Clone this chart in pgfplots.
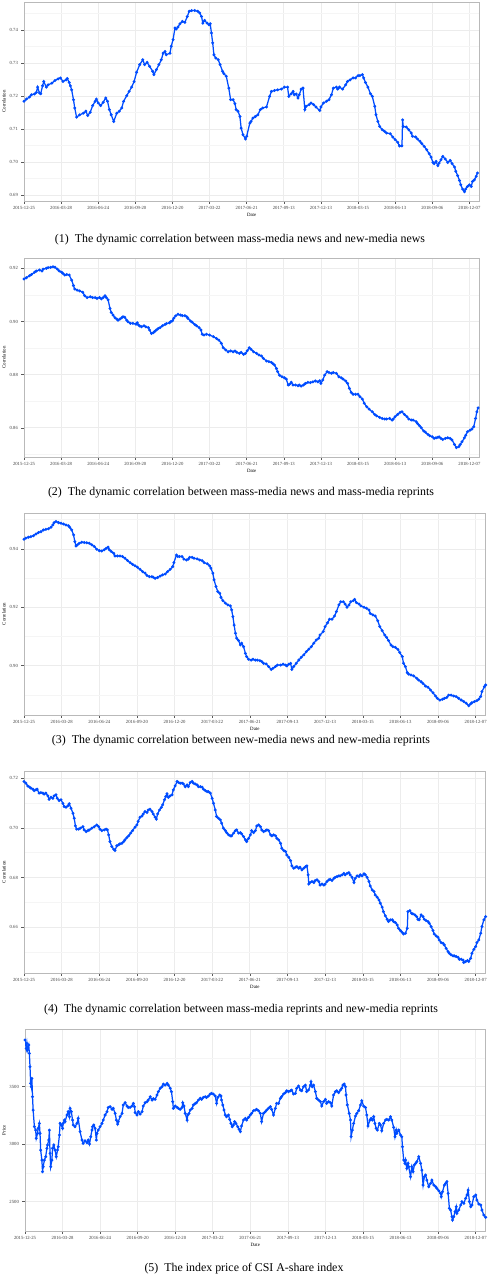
\documentclass[border=0pt]{standalone}
\usepackage{fontspec}
\setmainfont{Liberation Serif}
\usepackage{pgfplots}
\usepackage{pgfplotstable}
\pgfplotsset{compat=1.18}

\definecolor{lineblue}{RGB}{0,76,255}

% panel 1: mass-media news vs new-media news
\pgfplotstableread[row sep=\\]{x y\\
0 0.7184\\ 4 0.7191\\ 9 0.7197\\ 12 0.7204\\ 17 0.7206\\ 20 0.7211\\ 22 0.7227\\ 25 0.7209\\ 27 0.7207\\ 30 0.7231\\
32 0.7244\\ 36 0.7227\\ 39 0.7234\\ 45 0.7239\\ 50 0.7247\\ 55 0.7252\\ 59 0.7255\\ 63 0.7244\\ 68 0.7249\\ 70 0.7253\\
73 0.7241\\ 75 0.7231\\ 77 0.7219\\ 80 0.7189\\ 82 0.7164\\ 85 0.7136\\ 90 0.7143\\ 96 0.7148\\ 100 0.7154\\ 103 0.7141\\
107 0.7151\\ 111 0.7171\\ 115 0.7184\\ 117 0.7191\\ 120 0.7179\\ 124 0.7171\\ 128 0.7181\\ 132 0.7194\\ 135 0.7184\\ 138 0.7159\\
141 0.7143\\ 145 0.7123\\ 150 0.7148\\ 154 0.7154\\ 158 0.7164\\ 161 0.7184\\ 166 0.7201\\ 170 0.7214\\ 174 0.7227\\ 178 0.7244\\
182 0.7272\\ 187 0.7295\\ 192 0.7310\\ 195 0.7295\\ 199 0.7302\\ 203 0.7290\\ 208 0.7275\\ 210 0.7265\\ 214 0.7280\\ 218 0.7295\\
222 0.7310\\ 225 0.7330\\ 228 0.7335\\ 230 0.7325\\ 236 0.7330\\ 238 0.7351\\ 241 0.7371\\ 244 0.7406\\ 246 0.7403\\ 249 0.7409\\
252 0.7419\\ 256 0.7426\\ 260 0.7423\\ 264 0.7441\\ 267 0.7457\\ 271 0.7459\\ 276 0.7459\\ 281 0.7457\\ 284 0.7452\\ 287 0.7441\\
289 0.7421\\ 292 0.7429\\ 296 0.7421\\ 299 0.7416\\ 301 0.7419\\ 303 0.7391\\ 305 0.7361\\ 307 0.7325\\ 310 0.7315\\ 314 0.7310\\
317 0.7295\\ 321 0.7275\\ 323 0.7268\\ 327 0.7260\\ 331 0.7224\\ 334 0.7189\\ 338 0.7189\\ 341 0.7177\\ 343 0.7159\\ 346 0.7154\\
349 0.7138\\ 351 0.7103\\ 354 0.7083\\ 358 0.7070\\ 360 0.7078\\ 365 0.7118\\ 367 0.7123\\ 370 0.7133\\ 374 0.7138\\ 378 0.7143\\
382 0.7159\\ 386 0.7164\\ 392 0.7167\\ 397 0.7199\\ 400 0.7214\\ 405 0.7217\\ 410 0.7219\\ 416 0.7221\\ 421 0.7227\\ 426 0.7227\\
428 0.7199\\ 432 0.7207\\ 435 0.7214\\ 437 0.7204\\ 440 0.7206\\ 443 0.7194\\ 445 0.7204\\ 448 0.7221\\ 451 0.7224\\ 454 0.7159\\
456 0.7169\\ 461 0.7174\\ 464 0.7179\\ 468 0.7174\\ 472 0.7167\\ 478 0.7156\\ 480 0.7167\\ 484 0.7179\\ 489 0.7184\\ 493 0.7189\\
497 0.7204\\ 500 0.7224\\ 505 0.7227\\ 507 0.7221\\ 510 0.7227\\ 515 0.7221\\ 520 0.7234\\ 523 0.7244\\ 527 0.7249\\ 532 0.7255\\
536 0.7255\\ 540 0.7262\\ 543 0.7262\\ 547 0.7265\\ 549 0.7255\\ 552 0.7241\\ 556 0.7227\\ 560 0.7207\\ 563 0.7199\\ 567 0.7169\\
569 0.7143\\ 572 0.7123\\ 575 0.7108\\ 579 0.7098\\ 583 0.7093\\ 586 0.7088\\ 592 0.7086\\ 596 0.7076\\ 600 0.7068\\ 604 0.7060\\
607 0.7049\\ 611 0.7049\\ 612 0.7128\\ 613 0.7108\\ 618 0.7106\\ 622 0.7098\\ 626 0.7088\\ 628 0.7078\\ 633 0.7076\\ 636 0.7070\\
640 0.7063\\ 643 0.7056\\ 647 0.7047\\ 651 0.7037\\ 655 0.7025\\ 658 0.7015\\ 661 0.6999\\ 663 0.6995\\ 666 0.7002\\ 669 0.6989\\
671 0.6997\\ 674 0.7007\\ 677 0.7017\\ 681 0.7009\\ 685 0.6999\\ 689 0.7005\\ 692 0.6995\\ 696 0.6985\\ 698 0.6972\\ 701 0.6959\\
704 0.6944\\ 706 0.6931\\ 709 0.6918\\ 712 0.6910\\ 714 0.6918\\ 717 0.6926\\ 720 0.6931\\ 723 0.6926\\ 725 0.6941\\ 728 0.6946\\
731 0.6957\\ 733 0.6967\\
}\tabA

% panel 2: mass-media news vs mass-media reprints
\pgfplotstableread[row sep=\\]{x y\\
0 0.9160\\ 4 0.9165\\ 9 0.9172\\ 12 0.9177\\ 17 0.9185\\ 20 0.9190\\ 25 0.9194\\ 29 0.9190\\ 31 0.9197\\ 36 0.9200\\
39 0.9203\\ 43 0.9204\\ 47 0.9206\\ 50 0.9204\\ 54 0.9197\\ 57 0.9190\\ 61 0.9185\\ 63 0.9181\\ 66 0.9175\\ 69 0.9177\\
73 0.9175\\ 77 0.9156\\ 80 0.9135\\ 82 0.9122\\ 86 0.9118\\ 90 0.9115\\ 95 0.9110\\ 98 0.9097\\ 102 0.9090\\ 107 0.9093\\
111 0.9090\\ 115 0.9090\\ 118 0.9087\\ 122 0.9090\\ 125 0.9085\\ 128 0.9090\\ 131 0.9097\\ 133 0.9090\\ 136 0.9081\\ 139 0.9049\\
141 0.9034\\ 144 0.9024\\ 147 0.9014\\ 150 0.9009\\ 152 0.9005\\ 155 0.9009\\ 158 0.9014\\ 160 0.9018\\ 163 0.9016\\ 166 0.9005\\
168 0.8999\\ 172 0.8993\\ 176 0.8993\\ 181 0.8990\\ 183 0.8995\\ 185 0.8987\\ 187 0.8983\\ 190 0.8980\\ 194 0.8984\\ 197 0.8980\\
201 0.8977\\ 203 0.8968\\ 206 0.8955\\ 209 0.8958\\ 211 0.8962\\ 214 0.8968\\ 217 0.8974\\ 220 0.8977\\ 224 0.8984\\ 228 0.8989\\
230 0.8992\\ 235 0.8995\\ 237 0.8999\\ 240 0.9003\\ 242 0.9012\\ 245 0.9021\\ 249 0.9027\\ 253 0.9024\\ 256 0.9022\\ 260 0.9022\\
263 0.9018\\ 265 0.9012\\ 269 0.9002\\ 272 0.8997\\ 276 0.8989\\ 279 0.8984\\ 283 0.8977\\ 286 0.8968\\ 288 0.8952\\ 291 0.8949\\
295 0.8952\\ 300 0.8949\\ 306 0.8943\\ 311 0.8936\\ 315 0.8930\\ 319 0.8918\\ 322 0.8901\\ 326 0.8893\\ 330 0.8886\\ 334 0.8889\\
338 0.8886\\ 341 0.8889\\ 344 0.8884\\ 348 0.8880\\ 351 0.8884\\ 355 0.8876\\ 358 0.8880\\ 361 0.8890\\ 364 0.8901\\ 367 0.8895\\
371 0.8886\\ 376 0.8880\\ 380 0.8874\\ 384 0.8870\\ 387 0.8861\\ 392 0.8851\\ 396 0.8849\\ 400 0.8846\\ 402 0.8842\\ 405 0.8836\\
408 0.8823\\ 410 0.8811\\ 413 0.8798\\ 417 0.8792\\ 421 0.8788\\ 424 0.8783\\ 427 0.8761\\ 429 0.8763\\ 432 0.8771\\ 435 0.8761\\
439 0.8761\\ 443 0.8758\\ 445 0.8761\\ 448 0.8757\\ 452 0.8761\\ 455 0.8767\\ 459 0.8771\\ 463 0.8770\\ 467 0.8773\\ 471 0.8776\\
475 0.8773\\ 478 0.8777\\ 480 0.8767\\ 483 0.8780\\ 486 0.8798\\ 490 0.8811\\ 493 0.8808\\ 497 0.8805\\ 500 0.8808\\ 505 0.8805\\
509 0.8792\\ 513 0.8788\\ 516 0.8783\\ 520 0.8776\\ 523 0.8767\\ 526 0.8748\\ 529 0.8733\\ 532 0.8726\\ 536 0.8726\\ 540 0.8726\\
543 0.8717\\ 547 0.8708\\ 550 0.8692\\ 554 0.8679\\ 558 0.8670\\ 563 0.8660\\ 567 0.8650\\ 570 0.8645\\ 575 0.8639\\ 579 0.8635\\
583 0.8633\\ 586 0.8633\\ 591 0.8635\\ 595 0.8629\\ 597 0.8633\\ 600 0.8642\\ 604 0.8650\\ 608 0.8658\\ 611 0.8660\\ 615 0.8650\\
619 0.8642\\ 622 0.8633\\ 626 0.8629\\ 629 0.8629\\ 634 0.8623\\ 636 0.8616\\ 639 0.8608\\ 642 0.8600\\ 646 0.8588\\ 649 0.8583\\
653 0.8575\\ 656 0.8570\\ 660 0.8566\\ 663 0.8560\\ 666 0.8562\\ 669 0.8564\\ 671 0.8566\\ 674 0.8560\\ 677 0.8556\\ 681 0.8560\\
685 0.8562\\ 689 0.8560\\ 692 0.8554\\ 696 0.8537\\ 699 0.8525\\ 703 0.8529\\ 705 0.8537\\ 708 0.8547\\ 712 0.8562\\ 714 0.8572\\
717 0.8585\\ 721 0.8591\\ 724 0.8595\\ 727 0.8604\\ 730 0.8635\\ 732 0.8660\\ 734 0.8675\\
}\tabB

% panel 3: new-media news vs new-media reprints
\pgfplotstableread[row sep=\\]{x y\\
0 0.9433\\ 3 0.9437\\ 7 0.9440\\ 11 0.9442\\ 15 0.9445\\ 19 0.9451\\ 23 0.9456\\ 27 0.9459\\ 31 0.9465\\ 35 0.9467\\
39 0.9469\\ 43 0.9474\\ 46 0.9482\\ 48 0.9490\\ 51 0.9494\\ 55 0.9490\\ 59 0.9488\\ 63 0.9485\\ 67 0.9482\\ 71 0.9479\\
73 0.9474\\ 76 0.9465\\ 79 0.9448\\ 81 0.9425\\ 83 0.9410\\ 85 0.9414\\ 88 0.9419\\ 92 0.9423\\ 96 0.9422\\ 100 0.9421\\
104 0.9419\\ 108 0.9414\\ 112 0.9408\\ 116 0.9399\\ 120 0.9394\\ 124 0.9393\\ 128 0.9397\\ 131 0.9402\\ 134 0.9406\\ 136 0.9397\\
139 0.9391\\ 143 0.9385\\ 145 0.9376\\ 149 0.9376\\ 153 0.9376\\ 157 0.9374\\ 161 0.9368\\ 165 0.9360\\ 169 0.9353\\ 173 0.9347\\
177 0.9342\\ 181 0.9337\\ 185 0.9330\\ 189 0.9322\\ 193 0.9317\\ 196 0.9309\\ 200 0.9305\\ 204 0.9305\\ 206 0.9303\\ 209 0.9299\\
213 0.9302\\ 217 0.9307\\ 221 0.9311\\ 225 0.9314\\ 229 0.9322\\ 233 0.9330\\ 237 0.9339\\ 239 0.9353\\ 243 0.9379\\ 245 0.9374\\
248 0.9374\\ 252 0.9374\\ 255 0.9365\\ 259 0.9362\\ 262 0.9365\\ 264 0.9371\\ 268 0.9371\\ 271 0.9368\\ 276 0.9366\\ 280 0.9362\\
284 0.9360\\ 287 0.9353\\ 292 0.9349\\ 296 0.9342\\ 298 0.9334\\ 301 0.9317\\ 303 0.9294\\ 306 0.9271\\ 309 0.9254\\ 312 0.9248\\
314 0.9234\\ 317 0.9223\\ 321 0.9214\\ 325 0.9208\\ 329 0.9205\\ 331 0.9191\\ 333 0.9168\\ 335 0.9139\\ 337 0.9111\\ 339 0.9094\\
342 0.9086\\ 345 0.9071\\ 347 0.9077\\ 350 0.9065\\ 353 0.9042\\ 355 0.9031\\ 358 0.9022\\ 362 0.9019\\ 365 0.9022\\ 369 0.9019\\
372 0.9019\\ 376 0.9017\\ 379 0.9014\\ 382 0.9008\\ 386 0.9006\\ 390 0.8997\\ 394 0.8987\\ 397 0.8991\\ 401 0.8997\\ 404 0.9002\\
409 0.9002\\ 413 0.9005\\ 417 0.9002\\ 419 0.8999\\ 422 0.9005\\ 425 0.9008\\ 427 0.8987\\ 430 0.8997\\ 434 0.9008\\ 438 0.9019\\
442 0.9029\\ 446 0.9037\\ 450 0.9048\\ 454 0.9056\\ 458 0.9065\\ 462 0.9077\\ 466 0.9088\\ 470 0.9094\\ 472 0.9105\\ 477 0.9117\\
480 0.9134\\ 484 0.9147\\ 487 0.9159\\ 491 0.9159\\ 495 0.9170\\ 498 0.9185\\ 502 0.9208\\ 505 0.9219\\ 509 0.9219\\ 512 0.9211\\
515 0.9200\\ 518 0.9208\\ 521 0.9219\\ 525 0.9223\\ 527 0.9227\\ 530 0.9216\\ 534 0.9211\\ 537 0.9205\\ 542 0.9200\\ 546 0.9197\\
550 0.9191\\ 552 0.9179\\ 556 0.9174\\ 560 0.9170\\ 564 0.9154\\ 567 0.9134\\ 571 0.9120\\ 575 0.9105\\ 578 0.9097\\ 581 0.9086\\
585 0.9071\\ 588 0.9065\\ 592 0.9063\\ 596 0.9056\\ 599 0.9045\\ 603 0.9031\\ 605 0.9008\\ 608 0.8997\\ 611 0.8976\\ 613 0.8971\\
617 0.8968\\ 621 0.8965\\ 626 0.8957\\ 629 0.8951\\ 633 0.8945\\ 636 0.8939\\ 640 0.8930\\ 644 0.8926\\ 648 0.8917\\ 652 0.8907\\
656 0.8896\\ 659 0.8888\\ 663 0.8882\\ 667 0.8885\\ 670 0.8888\\ 674 0.8891\\ 677 0.8899\\ 681 0.8899\\ 685 0.8896\\ 689 0.8894\\
693 0.8888\\ 697 0.8882\\ 701 0.8877\\ 705 0.8871\\ 709 0.8863\\ 712 0.8869\\ 714 0.8873\\ 718 0.8877\\ 722 0.8880\\ 725 0.8885\\
728 0.8894\\ 730 0.8911\\ 734 0.8928\\ 736 0.8934\\
}\tabC

% panel 4: mass-media reprints vs new-media reprints
\pgfplotstableread[row sep=\\]{x y\\
0 0.7187\\ 3 0.7180\\ 6 0.7169\\ 9 0.7164\\ 11 0.7160\\ 14 0.7156\\ 16 0.7150\\ 19 0.7153\\ 21 0.7156\\ 24 0.7140\\
27 0.7142\\ 30 0.7140\\ 32 0.7136\\ 35 0.7140\\ 38 0.7129\\ 40 0.7115\\ 43 0.7123\\ 46 0.7119\\ 48 0.7129\\ 51 0.7133\\
53 0.7119\\ 56 0.7110\\ 59 0.7113\\ 62 0.7099\\ 64 0.7086\\ 67 0.7083\\ 70 0.7089\\ 72 0.7097\\ 75 0.7079\\ 78 0.7059\\
80 0.7039\\ 82 0.7008\\ 84 0.6995\\ 87 0.6995\\ 90 0.6999\\ 94 0.7005\\ 96 0.6992\\ 99 0.6985\\ 102 0.6989\\ 104 0.6992\\
108 0.6999\\ 112 0.7005\\ 116 0.7012\\ 119 0.7005\\ 121 0.6995\\ 124 0.6989\\ 128 0.6992\\ 131 0.6995\\ 133 0.6992\\ 135 0.6972\\
137 0.6945\\ 140 0.6925\\ 143 0.6914\\ 145 0.6909\\ 148 0.6928\\ 151 0.6932\\ 153 0.6936\\ 156 0.6938\\ 159 0.6945\\ 161 0.6952\\
164 0.6961\\ 167 0.6968\\ 170 0.6979\\ 173 0.6989\\ 177 0.7003\\ 180 0.7012\\ 182 0.7026\\ 185 0.7043\\ 188 0.7048\\ 190 0.7056\\
193 0.7066\\ 196 0.7062\\ 198 0.7072\\ 201 0.7075\\ 204 0.7066\\ 206 0.7056\\ 209 0.7043\\ 211 0.7035\\ 213 0.7056\\ 216 0.7072\\
219 0.7083\\ 221 0.7093\\ 224 0.7113\\ 226 0.7126\\ 228 0.7137\\ 230 0.7123\\ 233 0.7129\\ 236 0.7133\\ 238 0.7153\\ 241 0.7169\\
244 0.7187\\ 246 0.7183\\ 249 0.7180\\ 252 0.7180\\ 254 0.7177\\ 257 0.7166\\ 260 0.7173\\ 262 0.7166\\ 265 0.7183\\ 268 0.7187\\
270 0.7180\\ 273 0.7177\\ 276 0.7173\\ 278 0.7166\\ 281 0.7166\\ 284 0.7164\\ 286 0.7156\\ 289 0.7150\\ 292 0.7146\\ 294 0.7146\\
297 0.7140\\ 300 0.7119\\ 302 0.7099\\ 305 0.7072\\ 307 0.7046\\ 310 0.7039\\ 313 0.7032\\ 315 0.7019\\ 318 0.6999\\ 321 0.6989\\
323 0.6981\\ 326 0.6972\\ 329 0.6968\\ 331 0.6968\\ 334 0.6979\\ 337 0.6989\\ 339 0.6992\\ 342 0.6979\\ 345 0.6981\\ 347 0.6976\\
350 0.6965\\ 353 0.6952\\ 355 0.6945\\ 358 0.6958\\ 361 0.6972\\ 363 0.6989\\ 366 0.6981\\ 369 0.6989\\ 371 0.7008\\ 374 0.7012\\
377 0.7005\\ 379 0.6992\\ 382 0.6985\\ 385 0.6989\\ 387 0.6992\\ 390 0.6989\\ 393 0.6972\\ 395 0.6968\\ 398 0.6972\\ 401 0.6968\\
403 0.6958\\ 406 0.6952\\ 409 0.6938\\ 411 0.6918\\ 414 0.6909\\ 417 0.6905\\ 419 0.6891\\ 422 0.6882\\ 425 0.6868\\ 427 0.6847\\
430 0.6838\\ 433 0.6842\\ 435 0.6844\\ 438 0.6838\\ 440 0.6842\\ 443 0.6831\\ 446 0.6838\\ 449 0.6844\\ 451 0.6847\\ 453 0.6811\\
454 0.6774\\ 456 0.6780\\ 459 0.6784\\ 462 0.6780\\ 464 0.6788\\ 467 0.6791\\ 470 0.6784\\ 472 0.6770\\ 475 0.6774\\ 478 0.6770\\
480 0.6774\\ 483 0.6784\\ 486 0.6791\\ 488 0.6793\\ 491 0.6788\\ 494 0.6797\\ 496 0.6801\\ 499 0.6804\\ 502 0.6807\\ 504 0.6807\\
507 0.6811\\ 510 0.6817\\ 512 0.6811\\ 515 0.6817\\ 518 0.6820\\ 520 0.6811\\ 523 0.6801\\ 526 0.6780\\ 528 0.6797\\ 531 0.6807\\
534 0.6804\\ 536 0.6811\\ 539 0.6807\\ 542 0.6815\\ 544 0.6811\\ 547 0.6801\\ 550 0.6784\\ 552 0.6766\\ 555 0.6750\\ 558 0.6744\\
560 0.6730\\ 563 0.6721\\ 566 0.6710\\ 568 0.6697\\ 571 0.6681\\ 573 0.6663\\ 576 0.6646\\ 579 0.6632\\ 581 0.6623\\ 584 0.6630\\
587 0.6630\\ 589 0.6623\\ 592 0.6619\\ 595 0.6609\\ 597 0.6596\\ 600 0.6587\\ 603 0.6579\\ 605 0.6573\\ 608 0.6576\\ 611 0.6596\\
612 0.6663\\ 615 0.6667\\ 618 0.6656\\ 620 0.6654\\ 623 0.6650\\ 626 0.6643\\ 628 0.6632\\ 630 0.6630\\ 633 0.6650\\ 636 0.6643\\
638 0.6632\\ 641 0.6627\\ 644 0.6623\\ 646 0.6616\\ 649 0.6603\\ 652 0.6587\\ 654 0.6573\\ 657 0.6565\\ 660 0.6560\\ 662 0.6549\\
665 0.6538\\ 668 0.6536\\ 670 0.6529\\ 673 0.6515\\ 676 0.6502\\ 678 0.6495\\ 681 0.6489\\ 684 0.6485\\ 686 0.6485\\ 689 0.6482\\
692 0.6479\\ 694 0.6471\\ 697 0.6471\\ 700 0.6468\\ 701 0.6458\\ 704 0.6462\\ 707 0.6466\\ 709 0.6462\\ 712 0.6475\\ 714 0.6495\\
717 0.6511\\ 720 0.6522\\ 722 0.6538\\ 725 0.6549\\ 728 0.6576\\ 730 0.6603\\ 733 0.6630\\ 736 0.6643\\
}\tabD

% panel 5: CSI A-share index price
\pgfplotstableread[row sep=\\]{x y\\
0 3906\\ 2 3833\\ 3 3877\\ 4 3819\\ 6 3862\\ 7 3790\\ 8 3674\\ 9 3529\\ 10 3500\\ 11 3572\\
12 3413\\ 13 3297\\ 15 3152\\ 17 3123\\ 18 3051\\ 20 3094\\ 21 3138\\ 23 3181\\ 24 3094\\ 25 2949\\
27 2862\\ 28 2761\\ 29 2804\\ 31 2862\\ 33 2891\\ 35 2964\\ 36 2993\\ 38 3036\\ 39 3123\\ 40 2920\\
41 2804\\ 43 2862\\ 44 2964\\ 46 2993\\ 48 2949\\ 50 2891\\ 52 2949\\ 53 2978\\ 55 3080\\ 56 3181\\
58 3167\\ 60 3138\\ 61 3181\\ 63 3210\\ 64 3196\\ 67 3254\\ 69 3283\\ 71 3239\\ 72 3312\\ 74 3283\\
76 3210\\ 77 3167\\ 80 3152\\ 83 3181\\ 85 3225\\ 88 3109\\ 91 3036\\ 93 3007\\ 96 3030\\ 99 3013\\
101 3036\\ 103 3001\\ 105 3065\\ 107 3123\\ 108 3152\\ 110 3167\\ 112 3138\\ 114 3036\\ 115 3094\\ 117 3123\\
120 3152\\ 123 3181\\ 125 3210\\ 128 3254\\ 131 3283\\ 133 3320\\ 136 3326\\ 139 3303\\ 141 3312\\ 144 3268\\
146 3210\\ 148 3175\\ 149 3196\\ 152 3239\\ 155 3268\\ 157 3341\\ 160 3361\\ 163 3332\\ 165 3320\\ 168 3320\\
171 3332\\ 173 3355\\ 175 3326\\ 176 3274\\ 179 3254\\ 181 3283\\ 184 3262\\ 187 3283\\ 189 3332\\ 192 3361\\
195 3370\\ 197 3384\\ 200 3413\\ 203 3384\\ 205 3396\\ 208 3390\\ 211 3428\\ 213 3457\\ 216 3486\\ 219 3500\\
221 3523\\ 224 3514\\ 227 3529\\ 229 3514\\ 232 3486\\ 234 3457\\ 236 3370\\ 237 3312\\ 240 3332\\ 243 3320\\
245 3312\\ 248 3303\\ 251 3320\\ 252 3361\\ 254 3332\\ 256 3268\\ 259 3210\\ 260 3254\\ 262 3268\\ 264 3297\\
267 3312\\ 269 3341\\ 272 3355\\ 274 3361\\ 277 3384\\ 280 3399\\ 282 3390\\ 285 3407\\ 288 3413\\ 290 3407\\
293 3419\\ 296 3436\\ 298 3442\\ 301 3436\\ 304 3419\\ 306 3355\\ 308 3407\\ 311 3428\\ 313 3419\\ 314 3384\\
316 3341\\ 318 3297\\ 320 3254\\ 322 3239\\ 325 3254\\ 327 3216\\ 329 3181\\ 331 3152\\ 333 3167\\ 335 3196\\
337 3181\\ 340 3152\\ 342 3129\\ 344 3109\\ 346 3158\\ 349 3210\\ 352 3225\\ 354 3210\\ 357 3233\\ 360 3254\\
362 3268\\ 365 3291\\ 368 3297\\ 370 3303\\ 373 3291\\ 376 3268\\ 378 3196\\ 381 3268\\ 384 3283\\ 386 3297\\
389 3312\\ 392 3326\\ 394 3303\\ 397 3254\\ 400 3312\\ 402 3355\\ 405 3355\\ 408 3399\\ 410 3413\\ 413 3436\\
416 3448\\ 418 3465\\ 421 3457\\ 424 3465\\ 426 3471\\ 429 3436\\ 432 3442\\ 434 3486\\ 437 3506\\ 440 3471\\
442 3465\\ 445 3500\\ 448 3514\\ 450 3457\\ 453 3471\\ 456 3514\\ 457 3543\\ 459 3500\\ 461 3514\\ 464 3457\\
466 3399\\ 469 3384\\ 472 3370\\ 474 3332\\ 477 3370\\ 480 3390\\ 482 3355\\ 485 3370\\ 488 3361\\ 490 3332\\
493 3428\\ 496 3457\\ 498 3465\\ 501 3448\\ 504 3471\\ 506 3486\\ 508 3514\\ 510 3523\\ 512 3500\\ 513 3428\\
515 3341\\ 518 3268\\ 520 3210\\ 521 3065\\ 523 3123\\ 525 3181\\ 528 3245\\ 530 3268\\ 533 3291\\ 536 3341\\
538 3378\\ 541 3332\\ 544 3320\\ 546 3254\\ 548 3158\\ 551 3210\\ 553 3225\\ 555 3210\\ 557 3239\\ 559 3181\\
561 3138\\ 563 3123\\ 566 3181\\ 568 3167\\ 570 3117\\ 573 3181\\ 576 3210\\ 578 3216\\ 581 3210\\ 584 3239\\
586 3210\\ 589 3146\\ 591 3065\\ 593 3123\\ 594 3094\\ 597 3123\\ 600 3080\\ 602 3065\\ 603 2978\\ 605 2862\\
607 2833\\ 608 2862\\ 610 2790\\ 612 2833\\ 613 2804\\ 616 2717\\ 618 2804\\ 620 2761\\ 622 2819\\ 624 2833\\
626 2848\\ 629 2891\\ 632 2833\\ 634 2775\\ 636 2645\\ 638 2717\\ 640 2732\\ 642 2688\\ 645 2630\\ 648 2659\\
650 2688\\ 653 2645\\ 656 2630\\ 658 2616\\ 661 2596\\ 664 2572\\ 665 2543\\ 667 2587\\ 670 2645\\ 672 2659\\
674 2674\\ 676 2572\\ 678 2442\\ 680 2427\\ 682 2369\\ 683 2340\\ 685 2369\\ 687 2413\\ 689 2456\\ 690 2398\\
693 2427\\ 696 2471\\ 698 2500\\ 701 2485\\ 704 2529\\ 706 2558\\ 708 2601\\ 710 2500\\ 712 2456\\ 714 2471\\
717 2543\\ 720 2558\\ 722 2514\\ 725 2480\\ 728 2471\\ 730 2427\\ 733 2384\\ 736 2364\\
}\tabE

\pgfplotsset{
  panel/.style={
    scale only axis, anchor=south west,
    xmin=0, xmax=736,
    axis line style={gray!55, line width=0.6pt},
    grid=both,
    major grid style={gray!15, line width=0.75pt},
    minor grid style={gray!8, line width=0.5pt},
    tick align=outside, major tick length=2.6pt, minor tick length=0pt,
    tick style={black!65, line width=0.45pt},
    xtick pos=bottom, ytick pos=left,
    xtick={0,60,120,180,240,300,360,420,480,540,600,660,720},
    xticklabels={2015-12-25,2016-03-28,2016-06-24,2016-09-20,2016-12-20,2017-03-22,2017-06-21,2017-09-13,2017-12-13,2018-03-15,2018-06-13,2018-09-06,2018-12-07},
    ticklabel style={font=\fontsize{4.7}{5}\selectfont, text=black!75},
    xticklabel style={yshift=0.6pt},
    label style={font=\fontsize{4.9}{5}\selectfont},
    xlabel={Date}, ylabel={Correlation},
    xlabel style={yshift=3.5pt},
    ylabel style={yshift=-3pt},
    /pgf/number format/assume math mode=true,
    yticklabel style={/pgf/number format/.cd, fixed, fixed zerofill, precision=2},
    clip=true,
  },
  series/.style={lineblue, line width=1.25pt, mark=*, mark size=0.75pt, mark options={fill=lineblue, draw=lineblue}},
}
\tikzset{caption/.style={font=\fontsize{11.9}{13}\selectfont}}

\begin{document}
\begin{tikzpicture}
\useasboundingbox (0,0) rectangle (491pt,1278pt);

\begin{axis}[panel, at={(24pt,1077pt)}, width=455.3pt, height=199pt,
  ymin=0.6882, ymax=0.7485, ytick={0.69,0.70,0.71,0.72,0.73,0.74},
  minor ytick={0.695,0.705,0.715,0.725,0.735,0.745}]
\addplot[series] table {\tabA};
\end{axis}
\node[caption] at (240pt,1038pt) {(1)\enspace The dynamic correlation between mass-media news and new-media news};

\begin{axis}[panel, at={(24pt,821pt)}, width=455.3pt, height=199pt,
  ymin=0.849, ymax=0.9239, ytick={0.86,0.88,0.90,0.92},
  minor ytick={0.85,0.87,0.89,0.91}]
\addplot[series] table {\tabB};
\end{axis}
\node[caption] at (241pt,785pt) {(2)\enspace The dynamic correlation between mass-media news and mass-media reprints};

\begin{axis}[panel, at={(24pt,563pt)}, width=461.7pt, height=202pt,
  ymin=0.8831, ymax=0.9523, ytick={0.90,0.92,0.94},
  minor ytick={0.89,0.91,0.93,0.95}]
\addplot[series] table {\tabC};
\end{axis}
\node[caption] at (241pt,537pt) {(3)\enspace The dynamic correlation between new-media news and new-media reprints};

\begin{axis}[panel, at={(24pt,305pt)}, width=461.7pt, height=202pt,
  ymin=0.6416, ymax=0.7229, ytick={0.66,0.68,0.70,0.72},
  minor ytick={0.65,0.67,0.69,0.71}]
\addplot[series] table {\tabD};
\end{axis}
\node[caption] at (241pt,268pt) {(4)\enspace The dynamic correlation between mass-media reprints and new-media reprints};

\begin{axis}[panel, at={(25pt,47pt)}, width=460.7pt, height=202pt,
  ymin=2245, ymax=4002, ytick={2500,3000,3500},
  minor ytick={2750,3250,3750,4000}, ylabel={Price}, scaled y ticks=false,
  yticklabel style={/pgf/number format/.cd, fixed, precision=0, 1000 sep={}}]
\addplot[series] table {\tabE};
\end{axis}
\node[caption] at (244pt,9pt) {(5)\enspace The index price of CSI A-share index};
\end{tikzpicture}
\end{document}
